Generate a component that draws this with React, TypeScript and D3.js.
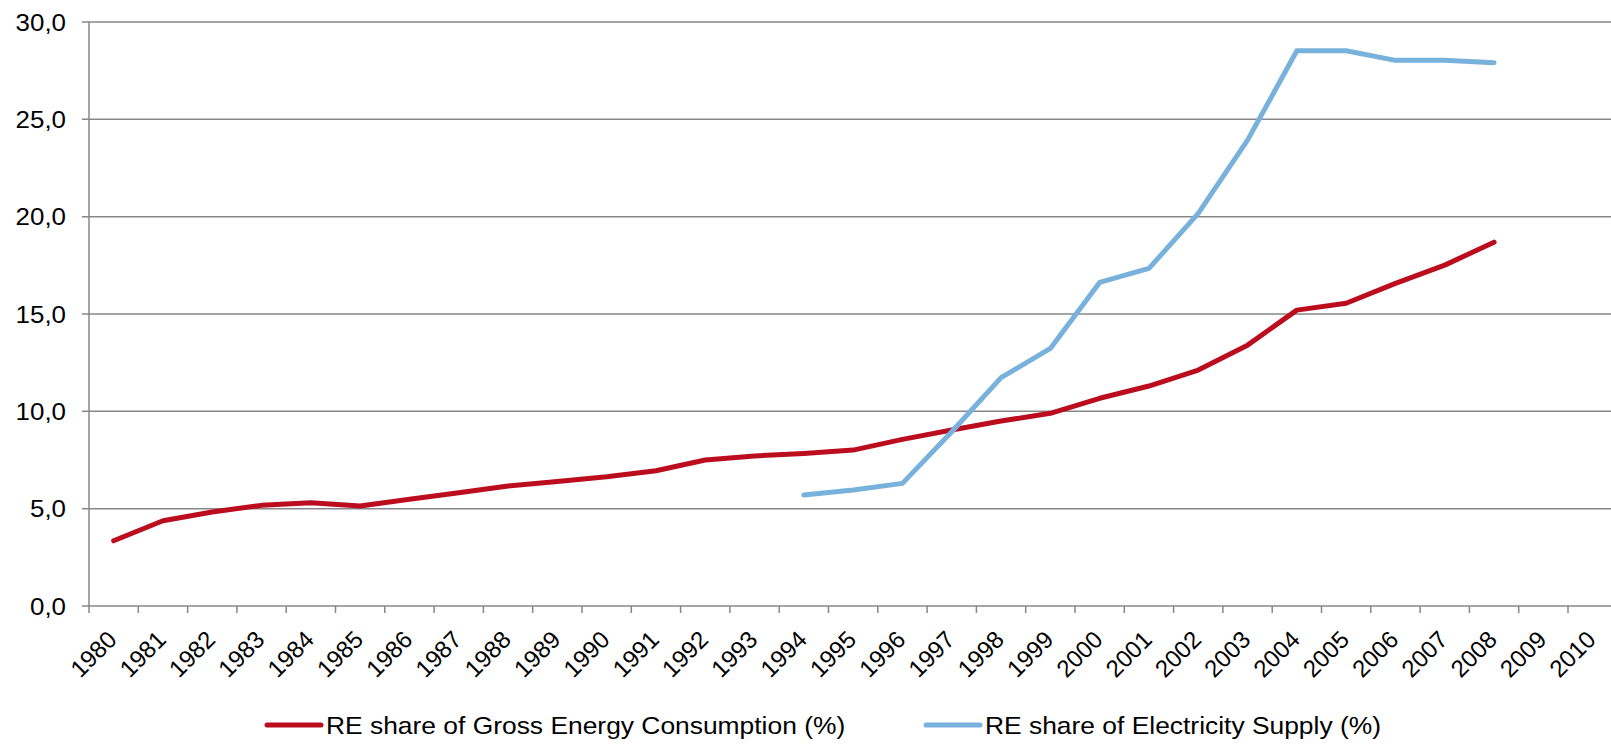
import React from "react";
import * as d3 from "d3";

const years: string[] = d3.range(1980, 2011).map(String);

const grossEnergyYears: string[] = [
  "1980","1981","1982","1983","1984","1985","1986","1987","1988","1989","1990","1991","1992","1993","1994",
  "1995","1996","1997","1998","1999","2000","2001","2002","2003","2004","2005","2006","2007","2008",
];
const grossEnergyValues: number[] = [
  3.35, 4.38, 4.83, 5.17, 5.31, 5.14, 5.48, 5.82, 6.16, 6.39, 6.64, 6.95, 7.5, 7.71, 7.84,
  8.01, 8.56, 9.04, 9.5, 9.9, 10.67, 11.3, 12.12, 13.4, 15.2, 15.55, 16.57, 17.51, 18.69,
];

const electricityYears: string[] = [
  "1994","1995","1996","1997","1998","1999","2000","2001","2002","2003","2004","2005","2006","2007","2008",
];
const electricityValues: number[] = [
  5.7, 5.96, 6.3, 8.95, 11.73, 13.23, 16.62, 17.34, 20.17, 23.93, 28.52, 28.52, 28.03, 28.03, 27.91,
];

const yTicks: number[] = [0, 5, 10, 15, 20, 25, 30];

const seriesNames: string[] = [
  "RE share of Gross Energy Consumption (%)",
  "RE share of Electricity Supply (%)",
];

const RED = "#BC0D1F";
const BLUE = "#79B1DD";
const GRID = "#878787";
const FONT = "'Liberation Sans', Arial, sans-serif";

export default function App() {
  const W = 1611;
  const H = 744;
  const left = 89;
  const top = 22;
  const bottom = 606;
  const band = 49.3;

  const x = d3.scaleBand<string>().domain(years).range([left, left + band * years.length]).padding(0);
  const y = d3.scaleLinear().domain([0, 30]).range([bottom, top]);
  const cx = (yr: string) => (x(yr) as number) + x.bandwidth() / 2;

  const line = d3
    .line<[string, number]>()
    .x((d) => cx(d[0]))
    .y((d) => y(d[1]));

  const redPath = line(grossEnergyYears.map((yr, i) => [yr, grossEnergyValues[i]] as [string, number])) || "";
  const bluePath = line(electricityYears.map((yr, i) => [yr, electricityValues[i]] as [string, number])) || "";

  const fmt = (v: number) => d3.format(".1f")(v).replace(".", ",");

  const boundaries = d3.range(0, years.length + 1).map((i) => left + i * x.bandwidth());

  const legendY = 725;
  const legendItems = [
    { x1: 267, x2: 321, tx: 326, color: RED, label: seriesNames[0] },
    { x1: 926, x2: 980, tx: 985, color: BLUE, label: seriesNames[1] },
  ];

  return (
    <svg
      width={W}
      height={H}
      style={{ position: "absolute", left: 0, top: 0, background: "#fff", overflow: "hidden" }}
      fontFamily={FONT}
    >
      <rect x={0} y={0} width={W} height={H} fill="#fff" />
      {/* gridlines */}
      {yTicks.map((t) => (
        <g key={t}>
          <line x1={left - 7} x2={W + 20} y1={y(t)} y2={y(t)} stroke={GRID} strokeWidth={1.5} />
          <text
            transform={`translate(66,${y(t) + 8.5}) scale(1.08,1)`}
            textAnchor="end"
            fontSize={24}
            fill="#000"
          >
            {fmt(t)}
          </text>
        </g>
      ))}
      {/* y axis line */}
      <line x1={left} x2={left} y1={top} y2={bottom} stroke={GRID} strokeWidth={1.5} />
      {/* x ticks */}
      {boundaries.map((bx, i) => (
        <line key={i} x1={bx} x2={bx} y1={bottom} y2={bottom + 7} stroke={GRID} strokeWidth={1.5} />
      ))}
      {/* x labels */}
      {years.map((yr) => (
        <text
          key={yr}
          transform={`translate(${cx(yr) + 4.5},${bottom + 35}) rotate(-45)`}
          textAnchor="end"
          fontSize={24}
          fill="#000"
        >
          {yr}
        </text>
      ))}
      {/* series */}
      <path d={redPath} fill="none" stroke={RED} strokeWidth={5} strokeLinejoin="round" strokeLinecap="round" />
      <path d={bluePath} fill="none" stroke={BLUE} strokeWidth={5} strokeLinejoin="round" strokeLinecap="round" />
      {/* legend */}
      {legendItems.map((it) => (
        <g key={it.label}>
          <line x1={it.x1} x2={it.x2} y1={legendY} y2={legendY} stroke={it.color} strokeWidth={5} strokeLinecap="round" />
          <text transform={`translate(${it.tx},733.5) scale(1.1,1)`} fontSize={24} fill="#000">
            {it.label}
          </text>
        </g>
      ))}
    </svg>
  );
}
